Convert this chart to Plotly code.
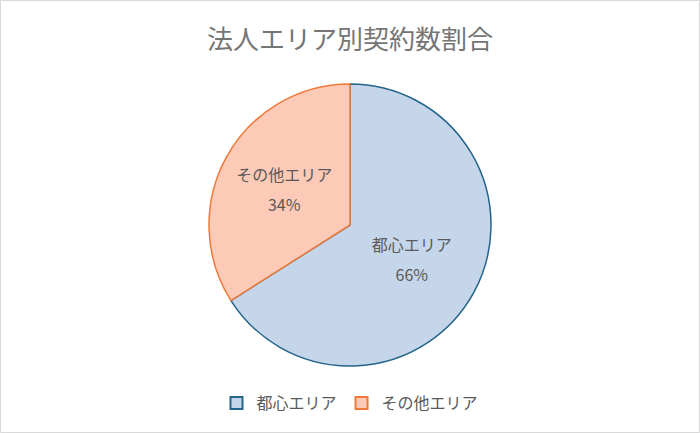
import plotly.graph_objects as go

title_text = "法人エリア別契約数割合"
categories = ["都心エリア", "その他エリア"]
values = [66, 34]
fill_colors = ["#c5d6ea", "#fccab7"]
line_colors = ["#24648a", "#ee7a3a"]

W, H = 700, 433
font_family = "Noto Sans CJK JP, Noto Sans, sans-serif"

fig = go.Figure(
    go.Pie(
        labels=categories,
        values=values,
        sort=False,
        direction="clockwise",
        rotation=0,
        marker=dict(colors=fill_colors, line=dict(color=line_colors, width=1.5)),
        texttemplate="<span style='font-size:16px'>%{label}</span><br>"
                     "<span style='font-size:16px'>%{percent:.0%}</span>",
        textposition="inside",
        insidetextorientation="horizontal",
        textfont=dict(family=font_family, size=23, color="#595959"),
        hoverinfo="label+percent",
        domain=dict(x=[0, 1], y=[1 - 366 / H, 1 - 84 / H]),
    )
)

fig.update_layout(
    width=W,
    height=H,
    margin=dict(l=0, r=0, t=0, b=0),
    paper_bgcolor="white",
    plot_bgcolor="white",
    title=dict(
        text=title_text,
        x=0.5,
        xanchor="center",
        y=1 - 40 / H,
        yanchor="middle",
        font=dict(family=font_family, size=26, color="#757575"),
    ),
    legend=dict(
        orientation="h",
        x=0.5,
        xanchor="center",
        y=1 - 403 / H,
        yanchor="middle",
        font=dict(family=font_family, size=16, color="#595959"),
        itemsizing="constant",
    ),
    shapes=[
        dict(
            type="rect",
            xref="paper",
            yref="paper",
            x0=0.5 / W,
            x1=1 - 0.5 / W,
            y0=0.5 / H,
            y1=1 - 0.5 / H,
            line=dict(color="#d9d9d9", width=1),
            fillcolor="rgba(0,0,0,0)",
        )
    ],
)

fig.write_html("out.html")
